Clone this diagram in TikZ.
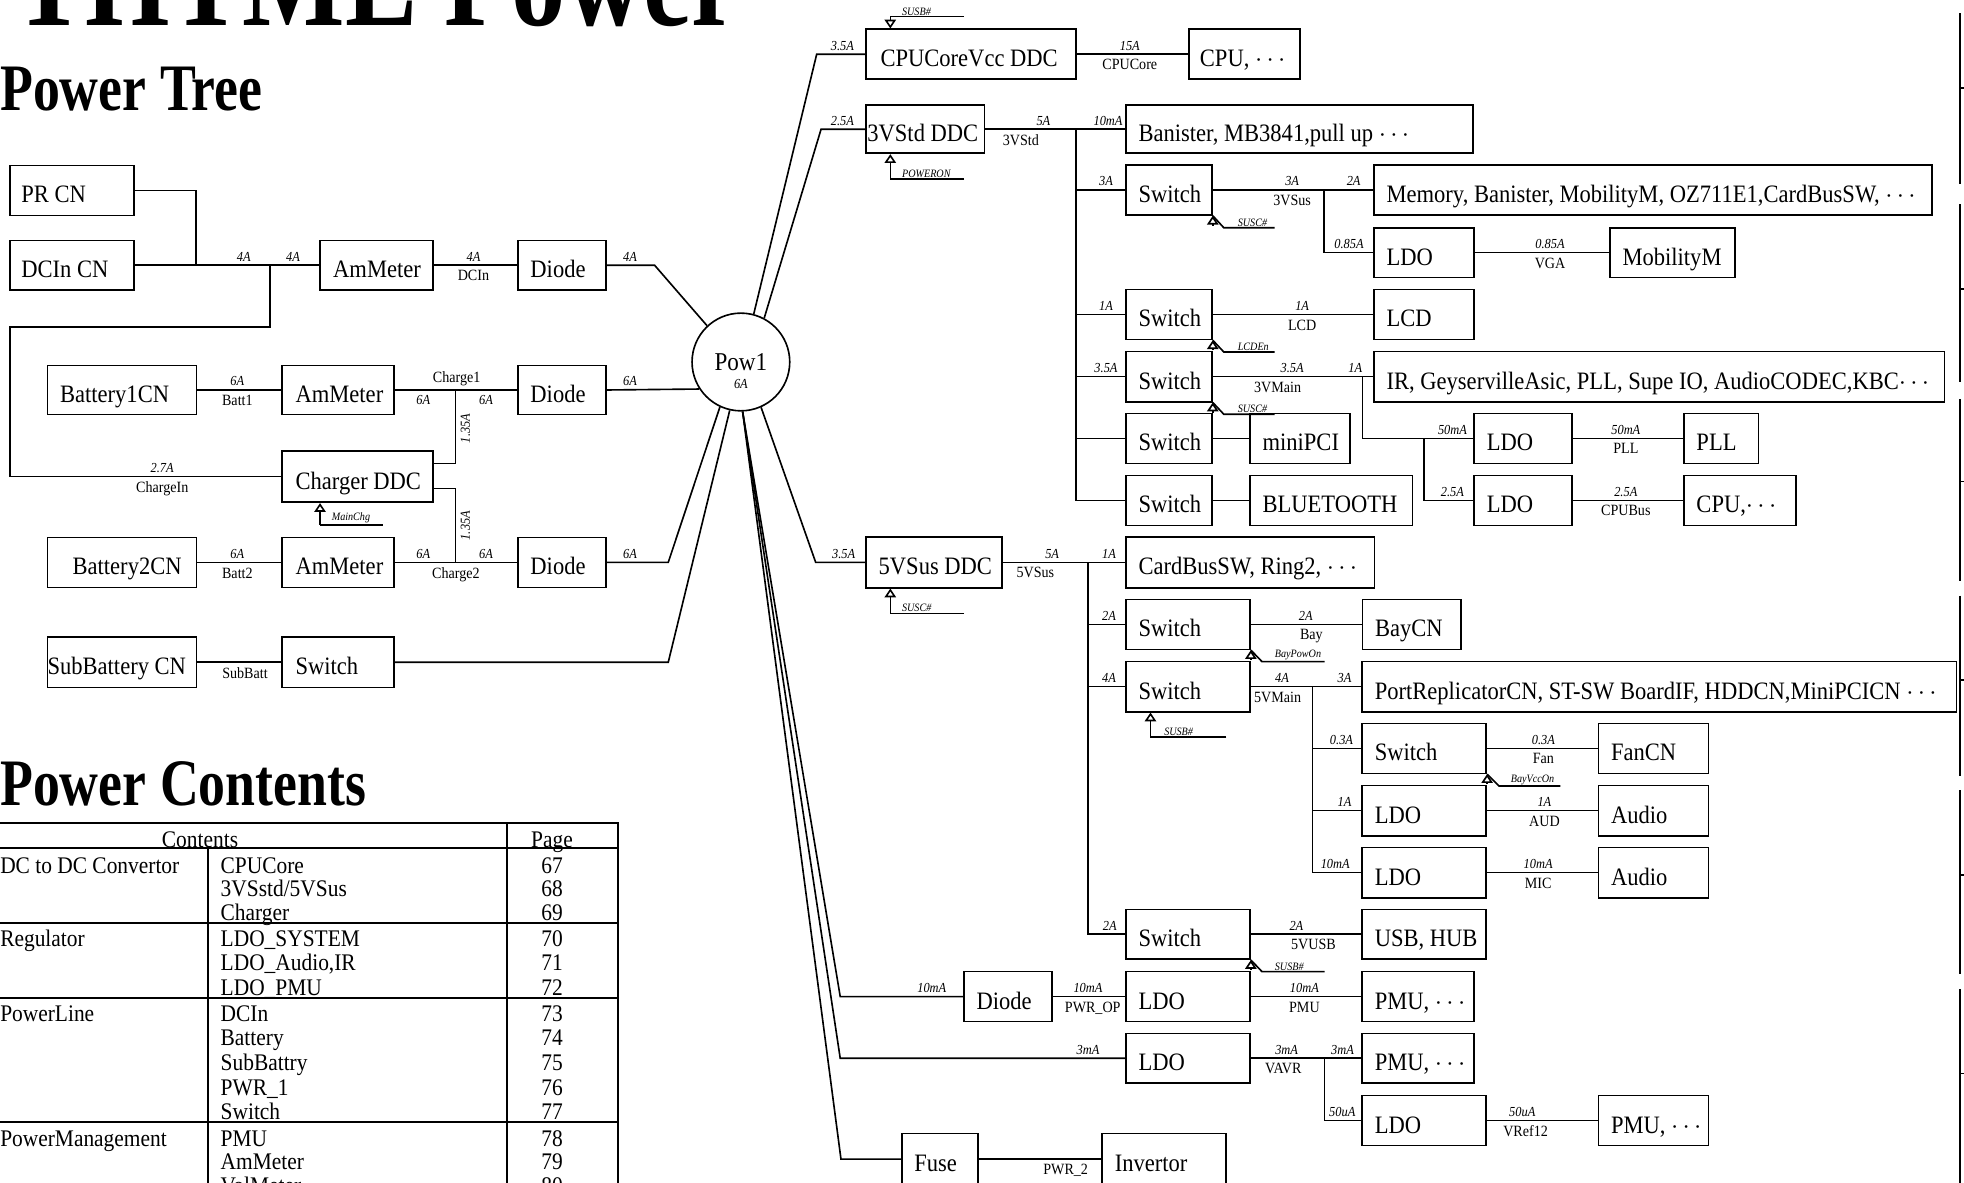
\documentclass[tikz,border=0pt]{standalone}
\usepackage{fontspec}
\setmainfont{Liberation Serif}[FakeStretch=0.9]
\newfontfamily\hfont{Liberation Serif}[FakeStretch=0.81]
\usetikzlibrary{arrows.meta}
\newcounter{lbc}
\tikzset{
 wire/.style={line width=1.3pt},
 tline/.style={line width=1.6pt},
 box/.style={draw, line width=1.3pt, fill=white, inner sep=0pt, font=\fontsize{20}{22}\selectfont},
 cur/.style={inner sep=0pt, font=\fontsize{11}{12}\selectfont\itshape},
 net/.style={inner sep=0pt, font=\fontsize{12.5}{13}\selectfont},
 ctl/.style={inner sep=0pt, font=\fontsize{9}{10}\selectfont\itshape},
 ctlarrow/.style={line width=1.3pt, -{Triangle[open, width=9pt, length=7pt]}},
 tab/.style={inner sep=0pt, font=\fontsize{19}{20}\selectfont},
 headfont/.style={inner sep=0pt, font=\hfont\bfseries\fontsize{53}{56}\selectfont},
}
% box: [text offset]{name}{x1}{y1}{x2}{y2}{text}
\newcommand\bx[7][10]{%
 \pgfmathsetmacro\bw{#5-#3}\pgfmathsetmacro\bh{#6-#4}\pgfmathsetmacro\tw{#5-#3-2*#1}%
 \node[box, minimum width=\bw pt, minimum height=\bh pt] (#2) at ({(#3+#5)/2},{(#4+#6)/2}) {\makebox[\tw pt][l]{\raisebox{0pt}[20pt][0pt]{#7}}};}
% labels
\newcommand\la[3]{\stepcounter{lbc}\node[cur, anchor=south] (L\arabic{lbc}) at (#1,#2-3) {#3};}
\newcommand\ld[3]{\stepcounter{lbc}\node[cur, anchor=north] (L\arabic{lbc}) at (#1,#2+4) {#3};}
\newcommand\lb[3]{\stepcounter{lbc}\node[net, anchor=north] (L\arabic{lbc}) at (#1,#2+4) {#3};}
\newcommand\lu[3]{\stepcounter{lbc}\node[net, anchor=south] (L\arabic{lbc}) at (#1,#2-3) {#3};}
\newcommand\lc[3]{\stepcounter{lbc}\node[ctl, anchor=south west] (L\arabic{lbc}) at (#1,#2-1) {#3};}
\newcommand\tx[4]{\stepcounter{lbc}\node[tab, anchor=#1] (T\arabic{lbc}) at (#2,#3) {#4};}
\newcommand\dts{\ensuremath{\cdots}}
\begin{document}
\begin{tikzpicture}[x=1pt,y=-1pt]
\useasboundingbox (0,0) rectangle (1568,944);
\clip (0,0) rectangle (1568,944);

% ---------- headings ----------
\node[inner sep=0pt, anchor=base east, font=\hfont\bfseries\fontsize{107}{110}\selectfont] (title) at (591,20) {THTME Power};
\node[headfont, anchor=base west] (h1) at (0,88) {Power Tree};
\node[headfont, anchor=base west] (h2) at (0,643) {Power Contents};

% ---------- labels (left) ----------
\la{194.7}{211.75}{4A}
\la{234}{211.75}{4A}
\la{378}{211.75}{4A} \lb{378}{211.75}{DCIn}
\la{503}{211.75}{4A}
\la{189.5}{311.35}{6A} \lb{189.5}{311.35}{Batt1}
\lu{364.6}{311.35}{Charge1}
\ld{338}{311.35}{6A} \ld{388}{311.35}{6A}
\la{503}{311.35}{6A}
\la{129.5}{380.5}{2.7A} \lb{129.5}{380.5}{ChargeIn}
\la{189.5}{449}{6A} \lb{189.5}{449}{Batt2}
\la{338}{449}{6A} \la{388}{449}{6A} \lb{364}{449}{Charge2}
\la{503}{449}{6A}
\lb{195.6}{528.75}{SubBatt}
\node[cur, rotate=90] (r135a) at (371.6,342) {1.35A};
\node[cur, rotate=90] (r135b) at (371.6,419.6) {1.35A};
\lc{264.7}{419}{MainChg}

% ---------- labels (right) ----------
\la{672.6}{43.35}{3.5A}
\la{902}{43.35}{15A} \lb{902}{43.35}{CPUCore}
\lc{720}{13.3}{SUSB\#}
\la{672.6}{103.2}{2.5A}
\la{833}{103.2}{5A} \lb{815}{103.2}{3VStd} \la{884.6}{103.2}{10mA}
\lc{720}{143}{POWERON}
\la{883}{151.65}{3A} \la{1031.6}{151.65}{3A} \lb{1031.6}{151.65}{3VSus} \la{1080.7}{151.65}{2A}
\lc{988}{181.8}{SUSC\#}
\la{1077}{201.6}{0.85A}
\la{1237.5}{201.6}{0.85A} \lb{1237.5}{201.6}{VGA}
\la{883}{251}{1A} \la{1039.6}{251}{1A} \lb{1039.6}{251}{LCD}
\lc{988}{281}{LCDEn}
\la{883}{300.7}{3.5A} \la{1031.6}{300.7}{3.5A} \lb{1020}{300.7}{3VMain} \la{1082}{300.7}{1A}
\lc{988}{330.7}{SUSC\#}
\la{1159.6}{350}{50mA} \la{1159.6}{399.45}{2.5A}
\la{1298}{350}{50mA} \lb{1298}{350}{PLL}
\la{1298}{399.45}{2.5A} \lb{1298}{399.45}{CPUBus}
\la{673.6}{448.95}{3.5A}
\lc{720}{489.7}{SUSC\#}
\la{840}{448.95}{5A} \lb{826.6}{448.95}{5VSus} \la{885.4}{448.95}{1A}
\la{885.4}{498.45}{2A} \la{1042.5}{498.45}{2A} \lb{1047}{498.45}{Bay}
\lc{1017.6}{528.2}{BayPowOn}
\la{885.4}{548.2}{4A} \la{1023.5}{548.2}{4A} \lb{1020}{548.2}{5VMain} \la{1073.5}{548.2}{3A}
\lc{929.3}{588.6}{SUSB\#}
\la{1071}{597.45}{0.3A} \la{1232.2}{597.45}{0.3A} \lb{1232.2}{597.45}{Fan}
\lc{1206}{627.5}{BayVccOn}
\la{1073.4}{647.2}{1A} \la{1233}{647.2}{1A} \lb{1233}{647.2}{AUD}
\la{1066}{696.7}{10mA} \la{1228}{696.7}{10mA} \lb{1228}{696.7}{MIC}
\la{886}{745.9}{2A} \la{1035}{745.9}{2A} \lb{1048.6}{745.9}{5VUSB}
\lc{1017.6}{775.7}{SUSB\#}
\la{743.9}{795.65}{10mA} \la{868.6}{795.65}{10mA}
\node[net, anchor=north west] (pwrop) at (850,799.65) {PWR\_OP};
\la{1041.4}{795.65}{10mA} \lb{1041.4}{795.65}{PMU}
\la{868.6}{844.9}{3mA} \la{1027.2}{844.9}{3mA} \lb{1024.6}{844.9}{VAVR} \la{1071.8}{844.9}{3mA}
\la{1071.6}{894.65}{50uA} \la{1215.3}{894.65}{50uA} \lb{1218}{894.65}{VRef12}
\lb{850.8}{925.4}{PWR\_2}

% ---------- boxes (left) ----------
\bx[9]{prcn}{8}{132}{107}{172}{PR CN}
\bx[9]{dccn}{8}{192}{107}{231.5}{DCIn CN}
\bx[10.5]{am0}{255.5}{192}{345.5}{231.5}{AmMeter}
\bx{d0}{413.5}{192}{484}{231.5}{Diode}
\bx{bat1}{38}{291.7}{157}{331}{Battery1CN}
\bx[11]{am1}{225}{291.7}{314.6}{331}{AmMeter}
\bx{d1}{413.5}{291.7}{484}{331}{Diode}
\bx[11]{chg}{225}{360}{345.6}{401}{Charger DDC}
\bx[20]{bat2}{38}{429}{157}{469}{Battery2CN}
\bx[11]{am2}{225}{429}{314.6}{469}{AmMeter}
\bx{d2}{413.5}{429}{484}{469}{Diode}
\bx[0]{sbat}{38}{508.5}{157}{549}{SubBattery CN}
\bx[11]{sw0}{225}{508.5}{314.6}{549}{Switch}

% ---------- boxes (right) ----------
\bx[11.5]{cpuddc}{691.5}{23.4}{859}{63.3}{CPUCoreVcc DDC}
\bx[9]{cpu}{949}{23.4}{1038}{63.3}{CPU, \dts}
\bx[1]{ddc3}{691.5}{84}{786}{122.4}{3VStd DDC}
\bx{ban}{899}{84}{1176}{122.4}{Banister, MB3841,pull up \dts}
\bx{sw1}{899}{131.7}{967.6}{171.6}{Switch}
\bx{mem}{1097}{131.7}{1542.6}{171.6}{Memory, Banister, MobilityM, OZ711E1,CardBusSW, \dts}
\bx{ldo1}{1097}{181.8}{1177}{221.4}{LDO}
\bx{mob}{1285.4}{181.8}{1385.3}{221.4}{MobilityM}
\bx{sw2}{899}{231}{967.6}{271}{Switch}
\bx{lcd}{1097}{231}{1177}{271}{LCD}
\bx{sw3}{899}{280.7}{967.6}{320.7}{Switch}
\bx{ir}{1097}{280.7}{1552.4}{320.7}{IR, GeyservilleAsic, PLL, Supe IO, AudioCODEC,KBC\dts}
\bx{sw4}{899}{330}{967.6}{370}{Switch}
\bx{mpci}{998}{330}{1077.7}{370}{miniPCI}
\bx{sw5}{899}{379.5}{967.6}{419.4}{Switch}
\bx{bt}{998}{379.5}{1127.7}{419.4}{BLUETOOTH}
\bx{ldo2}{1177}{330}{1255}{370}{LDO}
\bx{pll}{1344.4}{330}{1404}{370}{PLL}
\bx{ldo3}{1177}{379.5}{1255}{419.4}{LDO}
\bx{cpu2}{1344.4}{379.5}{1434}{419.4}{CPU,\dts}
\bx{ddc5}{691.5}{428.7}{800}{469.2}{5VSus DDC}
\bx{cbsw}{899}{428.7}{1097.4}{469.2}{CardBusSW, Ring2, \dts}
\bx{sw6}{899}{478.5}{998}{518.4}{Switch}
\bx{bay}{1087.8}{478.5}{1166.2}{518.4}{BayCN}
\bx{sw7}{899}{528.2}{998}{568.2}{Switch}
\bx{prep}{1087.6}{528.2}{1561.9}{568.2}{PortReplicatorCN, ST-SW BoardIF, HDDCN,MiniPCICN \dts}
\bx{sw8}{1087.6}{577.5}{1186.6}{617.4}{Switch}
\bx{fan}{1276.2}{577.5}{1364.1}{617.4}{FanCN}
\bx{ldo4}{1087.6}{627.2}{1186.6}{667.2}{LDO}
\bx{aud1}{1276.2}{627.2}{1364.1}{667.2}{Audio}
\bx{ldo5}{1087.6}{676.7}{1186.6}{716.7}{LDO}
\bx{aud2}{1276.2}{676.7}{1364.1}{716.7}{Audio}
\bx{sw9}{899}{726}{998}{765.8}{Switch}
\bx{usb}{1087.6}{726}{1186.6}{765.8}{USB, HUB}
\bx{dio}{769.6}{775.7}{840}{815.6}{Diode}
\bx{ldo6}{899}{775.7}{998}{815.6}{LDO}
\bx{pmu1}{1087.6}{775.7}{1177}{815.6}{PMU, \dts}
\bx{ldo7}{899}{825}{998}{864.8}{LDO}
\bx{pmu2}{1087.6}{825}{1177}{864.8}{PMU, \dts}
\bx{ldo8}{1087.6}{874.7}{1186.6}{914.6}{LDO}
\bx{pmu3}{1276.2}{874.7}{1364.1}{914.6}{PMU, \dts}
\bx{fuse}{720}{904.8}{781}{946}{Fuse}
\bx{inv}{880}{904.8}{979}{946}{Invertor}

% ---------- central node ----------
\node[draw, circle, line width=1.3pt, minimum size=78pt, inner sep=0pt, font=\fontsize{20.5}{21}\selectfont] (pow) at (591.5,289) {Pow1};
\node[cur] (pow6) at (591.5,306.5) {6A};

% ---------- wires (left) ----------
\coordinate (jdc) at (156.4,211.75);
\coordinate (jch) at (215.8,211.75);
\coordinate (cl1) at (8,261);
\draw[wire] (prcn.east) -| (jdc);
\draw[wire] (dccn.east) -- (am0.west);
\draw[wire] (jch) |- (cl1) |- (chg.west);
\draw[wire] (am0.east) -- (d0.west);
\coordinate (kd0) at (522.6,211.75);
\draw[wire] (d0.east) -- (kd0) -- (pow.133.1);
\draw[wire] (bat1.east) -- (am1.west);
\draw[wire] (am1.east) -- (d1.west);
\draw[wire] (d1.east) -- (pow.213);
\coordinate (jc1) at (363.7,311.35);
\coordinate (jc1b) at (363.7,370);
\draw[wire] (jc1) -- (jc1b) -- (chg.east |- jc1b);
\coordinate (jc2a) at (363.7,389.9);
\coordinate (jc2) at (363.7,449);
\draw[wire] (chg.east |- jc2a) -- (jc2a) -- (jc2);
\coordinate (mc) at (255.5,419);
\coordinate (mce) at (305.6,419);
\draw[wire] (mce) -- (mc);
\draw[ctlarrow] (mc) -- (mc |- chg.south);
\draw[wire] (bat2.east) -- (am2.west);
\draw[wire] (am2.east) -- (d2.west);
\coordinate (kb2) at (533.5,449);
\draw[wire] (d2.east) -- (kb2) -- (pow.245.9);
\draw[wire] (sbat.east) -- (sw0.west);
\coordinate (ksb) at (533.5,528.75);
\draw[wire] (sw0.east) -- (ksb) -- (pow.257.3);

% ---------- wires (right, CPU core / 3VStd) ----------
\coordinate (kc) at (652,43.35);
\draw[wire] (pow.75.3) -- (kc) -- (cpuddc.west);
\draw[wire] (cpuddc.east) -- (cpu.west);
\coordinate (c1) at (710.8,13.3); \coordinate (c1e) at (769.8,13.3);
\draw[wire] (c1e) -- (c1);
\draw[ctlarrow] (c1) -- (c1 |- cpuddc.north);
\coordinate (k3) at (655.5,103.2);
\draw[wire] (pow.62.9) -- (k3) -- (ddc3.west);
\draw[wire] (ddc3.east) -- (ban.west);
\coordinate (c2) at (710.8,143); \coordinate (c2e) at (769.8,143);
\draw[wire] (c2e) -- (c2);
\draw[ctlarrow] (c2) -- (c2 |- ddc3.south);
\coordinate (b3) at (859,103.2);
\draw[wire] (b3) |- (sw5.west);
\foreach \s in {sw1,sw2,sw3,sw4} {\draw[wire] (b3 |- \s.west) -- (\s.west);}
\draw[wire] (sw1.east) -- (mem.west);
\coordinate (j3s) at (1056.8,151.65);
\draw[wire] (j3s) |- (ldo1.west);
\draw[wire] (ldo1.east) -- (mob.west);
\draw[wire] (sw2.east) -- (lcd.west);
\draw[wire] (sw3.east) -- (ir.west);
\coordinate (j3m) at (1087.8,300.7);
\draw[wire] (j3m) |- (ldo2.west);
\coordinate (j3m2) at (1136.8,350);
\draw[wire] (j3m2) |- (ldo3.west);
\draw[wire] (ldo2.east) -- (pll.west);
\draw[wire] (ldo3.east) -- (cpu2.west);
\draw[wire] (sw4.east) -- (mpci.west);
\draw[wire] (sw5.east) -- (bt.west);
% corner enables
\coordinate (e1) at (977,181.8); \coordinate (e1e) at (1017.6,181.8);
\draw[wire] (e1e) -- (e1) -- (sw1.south east);
\draw[ctlarrow] ([yshift=-8pt]sw1.south east) -- (sw1.south east);
\coordinate (e2) at (977,281); \coordinate (e2e) at (1017.6,281);
\draw[wire] (e2e) -- (e2) -- (sw2.south east);
\draw[ctlarrow] ([yshift=-8pt]sw2.south east) -- (sw2.south east);
\coordinate (e3) at (977,330.7); \coordinate (e3e) at (1017.6,330.7);
\draw[wire] (e3e) -- (e3) -- (sw3.south east);
\draw[ctlarrow] ([yshift=-8pt]sw3.south east) -- (sw3.south east);

% ---------- wires (5VSus) ----------
\coordinate (k5) at (651.2,448.95);
\draw[wire] (pow.294) -- (k5) -- (ddc5.west);
\coordinate (c3) at (710.8,489.7); \coordinate (c3e) at (769.8,489.7);
\draw[wire] (c3e) -- (c3);
\draw[ctlarrow] (c3) -- (c3 |- ddc5.south);
\draw[wire] (ddc5.east) -- (cbsw.west);
\coordinate (b5) at (868.6,448.95);
\draw[wire] (b5) |- (sw9.west);
\foreach \s in {sw6,sw7} {\draw[wire] (b5 |- \s.west) -- (\s.west);}
\draw[wire] (sw6.east) -- (bay.west);
\coordinate (e4) at (1007.5,528.2); \coordinate (e4e) at (1057.5,528.2);
\draw[wire] (e4e) -- (e4) -- (sw6.south east);
\draw[ctlarrow] ([yshift=-8pt]sw6.south east) -- (sw6.south east);
\draw[wire] (sw7.east) -- (prep.west);
\coordinate (c4) at (918.5,588.6); \coordinate (c4e) at (979,588.6);
\draw[wire] (c4e) -- (c4);
\draw[ctlarrow] (c4) -- (c4 |- sw7.south);
\coordinate (j5m) at (1047.9,548.2);
\draw[wire] (j5m) |- (ldo5.west);
\foreach \s in {sw8,ldo4} {\draw[wire] (j5m |- \s.west) -- (\s.west);}
\draw[wire] (sw8.east) -- (fan.west);
\coordinate (e5) at (1196.7,627.5); \coordinate (e5e) at (1245.7,627.5);
\draw[wire] (e5e) -- (e5) -- (sw8.south east);
\draw[ctlarrow] ([yshift=-8pt]sw8.south east) -- (sw8.south east);
\draw[wire] (ldo4.east) -- (aud1.west);
\draw[wire] (ldo5.east) -- (aud2.west);
\draw[wire] (sw9.east) -- (usb.west);
\coordinate (e6) at (1007.5,775.7); \coordinate (e6e) at (1057.5,775.7);
\draw[wire] (e6e) -- (e6) -- (sw9.south east);
\draw[ctlarrow] ([yshift=-8pt]sw9.south east) -- (sw9.south east);

% ---------- wires (bottom) ----------
\coordinate (kd) at (670.8,795.65);
\draw[wire] (pow.272) -- (kd) -- (dio.west);
\draw[wire] (dio.east) -- (ldo6.west);
\draw[wire] (ldo6.east) -- (pmu1.west);
\coordinate (kv) at (670.8,844.9);
\draw[wire] (pow.272) -- (kv) -- (ldo7.west);
\draw[wire] (ldo7.east) -- (pmu2.west);
\coordinate (jv) at (1057.5,844.9);
\draw[wire] (jv) |- (ldo8.west);
\draw[wire] (ldo8.east) -- (pmu3.west);
\coordinate (kf) at (671.4,925.4);
\draw[wire] (pow.272) -- (kf) -- (fuse.west);
\draw[wire] (fuse.east) -- (inv.west);

% ---------- right-edge marks ----------
\foreach \a/\b/\t in {10.6/146.8/70.4, 163/305/230.7, 318.8/463.8/384.5, 475.5/619.3/543, 631/777.8/698.6, 789.6/950/857}
 {\draw[wire] (1565,\a) -- (1565,\b); \draw[wire] (1565,\t) -- (1570,\t);}

% ---------- contents table ----------
\draw[tline] (0,657.3) -- (493.7,657.3) -- (493.7,950);
\draw[tline] (0,677.3) -- (493.7,677.3);
\draw[tline] (166.2,677.3) -- (166.2,950);
\draw[tline] (404.5,657.3) -- (404.5,950);
\foreach \yy in {737.2,796.5,895.5} {\draw[tline] (0,\yy) -- (493.7,\yy);}
\tx{base}{159.7}{676.5}{Contents}
\tx{base}{440.7}{676.5}{Page}
\tx{base west}{0}{697}{DC to DC Convertor}
\tx{base west}{176}{697}{CPUCore} \tx{base}{440.7}{697}{67}
\tx{base west}{176}{716}{3VSstd/5VSus} \tx{base}{440.7}{716}{68}
\tx{base west}{176}{735}{Charger} \tx{base}{440.7}{735}{69}
\tx{base west}{0}{756}{Regulator}
\tx{base west}{176}{756}{LDO\_SYSTEM} \tx{base}{440.7}{756}{70}
\tx{base west}{176}{775}{LDO\_Audio,IR} \tx{base}{440.7}{775}{71}
\tx{base west}{176}{795}{LDO\_PMU} \tx{base}{440.7}{795}{72}
\tx{base west}{0}{815.5}{PowerLine}
\tx{base west}{176}{815.5}{DCIn} \tx{base}{440.7}{815.5}{73}
\tx{base west}{176}{835}{Battery} \tx{base}{440.7}{835}{74}
\tx{base west}{176}{855}{SubBattry} \tx{base}{440.7}{855}{75}
\tx{base west}{176}{875}{PWR\_1} \tx{base}{440.7}{875}{76}
\tx{base west}{176}{893.5}{Switch} \tx{base}{440.7}{893.5}{77}
\tx{base west}{0}{915}{PowerManagement}
\tx{base west}{176}{915}{PMU} \tx{base}{440.7}{915}{78}
\tx{base west}{176}{934}{AmMeter} \tx{base}{440.7}{934}{79}
\tx{base west}{176}{953}{VolMeter} \tx{base}{440.7}{953}{80}
\end{tikzpicture}
\end{document}
